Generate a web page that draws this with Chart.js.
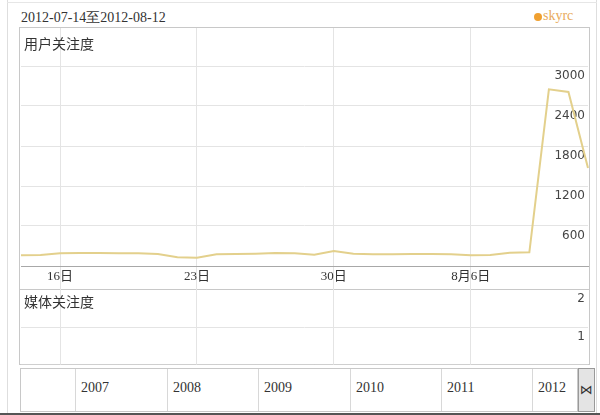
<!DOCTYPE html>
<html><head><meta charset="utf-8">
<script src="https://cdn.jsdelivr.net/npm/chart.js@4.4.0/dist/chart.umd.min.js"></script>
<style>
html,body{margin:0;padding:0;background:#fff;}
body{width:600px;height:415px;position:relative;overflow:hidden;font-family:"Liberation Serif",serif;}
.a{position:absolute;}
canvas{position:absolute;left:0;}
</style></head><body>
<div class="a" style="left:7px;top:0;width:1px;height:415px;background:#dedede"></div>
<div class="a" style="left:596px;top:0;width:1px;height:415px;background:#dedede"></div>
<div class="a" style="left:7px;top:2px;width:590px;height:1px;background:#e6e6e6"></div>
<div class="a" style="left:0;top:413px;width:600px;height:2px;background:#555"></div>

<div class="a" style="left:21px;top:9px;font-size:14px;color:#333;white-space:nowrap">2012-07-14至2012-08-12</div>
<div class="a" style="left:534px;top:13px;width:8px;height:8px;border-radius:4px;background:#f0a030"></div>
<div class="a" style="left:543px;top:8px;font-size:14px;color:#e9aa5a">skyrc</div>

<div class="a" style="left:19px;top:27px;width:571px;height:338px;border:1px solid #c8c8c8;box-sizing:border-box"></div>
<div class="a" style="left:19px;top:289px;width:571px;height:1px;background:#c8c8c8"></div>

<canvas id="c1" width="600" height="262" style="top:28px;width:600px;height:262px"></canvas>
<canvas id="c2" width="600" height="76" style="top:290px;width:600px;height:76px"></canvas>

<div class="a" style="left:24px;top:33px;font-family:'Noto Sans CJK SC',sans-serif;font-size:14px;color:#333">用户关注度</div>
<div class="a" style="left:24px;top:291px;font-family:'Noto Sans CJK SC',sans-serif;font-size:14px;color:#333">媒体关注度</div>

<div id="tl" class="a" style="left:20px;top:368px;width:558px;height:44px;border:1px solid #c8c8c8;box-sizing:border-box;background:#fff"></div>
<div class="a" style="left:578px;top:368px;width:17px;height:44px;border:1px solid #999;box-sizing:border-box;background:#e4e4e4;font-family:'DejaVu Sans';font-size:13px;color:#333;text-align:center;line-height:42px">⋈</div>

<script>
// ---- data ----
const dates = ['2012-07-14','2012-07-15','2012-07-16','2012-07-17','2012-07-18','2012-07-19','2012-07-20',
  '2012-07-21','2012-07-22','2012-07-23','2012-07-24','2012-07-25','2012-07-26','2012-07-27','2012-07-28',
  '2012-07-29','2012-07-30','2012-07-31','2012-08-01','2012-08-02','2012-08-03','2012-08-04','2012-08-05',
  '2012-08-06','2012-08-07','2012-08-08','2012-08-09','2012-08-10','2012-08-11','2012-08-12'];
const userAttention = [160,165,190,195,195,190,190,180,130,125,175,180,185,195,190,170,225,185,175,175,180,180,175,160,165,200,205,2650,2610,1470];
const mediaAttention = [0,0,0,0,0,0,0,0,0,0,0,0,0,0,0,0,0,0,0,0,0,0,0,0,0,0,0,0,0,0];
const xTickLabels = {'2012-07-16':'16日','2012-07-23':'23日','2012-07-30':'30日','2012-08-06':'8月6日'};
const userYTicks = [600,1200,1800,2400,3000];
const mediaYTicks = [1,2];
const years = ['2007','2008','2009','2010','2011','2012'];
const yearStarts = [75,167,258,350,441,532];

// timeline (navigator) boxes
const tl = document.getElementById('tl');
years.forEach((y,i)=>{
  const s = document.createElement('div');
  s.className='a';
  s.style.cssText='left:'+(yearStarts[i]-21)+'px;top:0;width:1px;height:42px;background:#d8d8d8';
  tl.appendChild(s);
  const t = document.createElement('div');
  t.className='a';
  t.textContent=y;
  t.style.cssText='left:'+(yearStarts[i]-21+6)+'px;top:11px;font-size:14px;color:#333';
  tl.appendChild(t);
});

const LINE = '#e3d08c';
const GRID = '#e4e4e4';
const CLEAR = 'rgba(0,0,0,0)';
const noPad = (s)=>{ s.paddingTop=0; s.paddingBottom=0; s.paddingLeft=0; s.paddingRight=0; };

function xScale(showLabels){
  return {
    type:'category',
    offset:false,
    border:{display:showLabels, color:'#a8a8a8', width:1},
    grid:{
      color:(ctx)=> (ctx.tick && xTickLabels[dates[ctx.index]]!==undefined) ? GRID : CLEAR,
      tickColor:(ctx)=> (ctx.tick && xTickLabels[dates[ctx.index]]!==undefined) ? GRID : CLEAR,
      drawTicks:showLabels, tickLength:24, lineWidth:1
    },
    ticks:{
      display:showLabels, autoSkip:false, maxRotation:0, minRotation:0, padding:-21,
      color:'#333', font:{family:"'Liberation Serif','Noto Sans CJK SC'", size:13},
      callback:function(v,i){ const l = xTickLabels[dates[i]]; return l===undefined ? '' : l; }
    },
    afterFit:(s)=>{ s.height = showLabels ? 24 : 0; noPad(s); }
  };
}

function yScale(max, tickVals, labelOffset, gridVals){
  return {
    position:'right', min:0, max:max,
    border:{display:false},
    grid:{drawTicks:false, color:(ctx)=> (ctx.tick && gridVals.includes(ctx.tick.value)) ? GRID : CLEAR},
    ticks:{mirror:true, padding:-3, labelOffset:labelOffset, color:'#444',
      font:{family:'DejaVu Sans', size:12},
      callback:(v)=> tickVals.includes(v) ? String(v) : ''},
    afterBuildTicks:(s)=>{ s.ticks = tickVals.map(v=>({value:v})); },
    afterFit:(s)=>{ s.width = 0; noPad(s); }
  };
}

new Chart(document.getElementById('c1'), {
  type:'line',
  data:{labels:dates, datasets:[{data:userAttention, borderColor:LINE, borderWidth:2, pointRadius:0, fill:false, tension:0}]},
  options:{
    responsive:false, animation:false, devicePixelRatio:1,
    layout:{autoPadding:false, padding:{left:21, right:12, top:0, bottom:0}},
    plugins:{legend:{display:false}, tooltip:{enabled:false}},
    scales:{ x:xScale(true), y:yScale(3570, userYTicks, 10, userYTicks) }
  }
});

new Chart(document.getElementById('c2'), {
  type:'line',
  data:{labels:dates, datasets:[{data:mediaAttention, borderColor:'#d6d6d6', borderWidth:1, pointRadius:0, fill:false}]},
  options:{
    responsive:false, animation:false, devicePixelRatio:1,
    layout:{autoPadding:false, padding:{left:21, right:12, top:0, bottom:1}},
    plugins:{legend:{display:false}, tooltip:{enabled:false}},
    scales:{ x:xScale(false), y:yScale(2, mediaYTicks, 9, [1]) }
  }
});
</script>
</body></html>
